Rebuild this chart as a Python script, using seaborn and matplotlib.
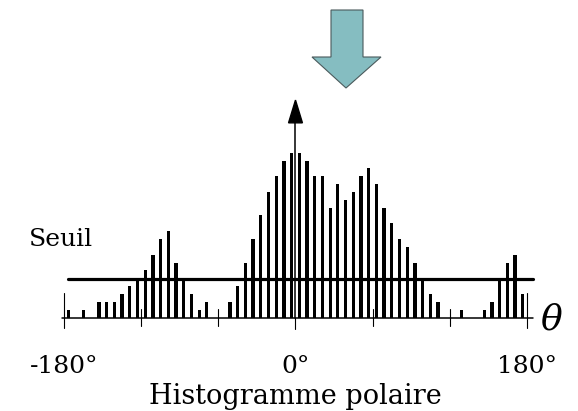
import numpy as np
import pandas as pd
import matplotlib.pyplot as plt
import seaborn as sns
from matplotlib.patches import Polygon

# polar histogram: 60 bins of 6 degrees, counts
angles = [-177, -171, -165, -159, -153, -147, -141, -135, -129, -123,
          -117, -111, -105, -99, -93, -87, -81, -75, -69, -63,
          -57, -51, -45, -39, -33, -27, -21, -15, -9, -3,
          3, 9, 15, 21, 27, 33, 39, 45, 51, 57,
          63, 69, 75, 81, 87, 93, 99, 105, 111, 117,
          123, 129, 135, 141, 147, 153, 159, 165, 171, 177]
counts = [1, 0, 1, 0, 2, 2, 2, 3, 4, 5,
          6, 8, 10, 11, 7, 5, 3, 1, 2, 0,
          0, 2, 4, 7, 10, 13, 16, 18, 20, 21,
          21, 20, 18, 18, 14, 17, 15, 16, 18, 19,
          17, 14, 12, 10, 9, 7, 5, 3, 2, 0,
          0, 1, 0, 0, 1, 2, 5, 7, 8, 3]
threshold = 4.9
tick_angles = [-180, -120, -60, 0, 60, 120, 180]
tick_labels = ['-180°', '0°', '180°']
label_angles = [-180, 0, 180]

df = pd.DataFrame({'angle': angles, 'count': counts})


def pos(deg):
    # categorical bar index for an angle in degrees
    return (np.asarray(deg, dtype=float) - angles[0]) / 6.0


sns.set_style("white")
plt.rcParams['font.family'] = ['DejaVu Serif']
plt.rcParams['text.color'] = 'black'

fig = plt.figure(figsize=(5.78, 4.11), dpi=100)
ax = fig.add_axes([0, 0, 1, 1])
sns.barplot(data=df, x='angle', y='count', color='black', saturation=1,
            width=0.42, errorbar=None, linewidth=0, edgecolor='black', ax=ax)
ax.set_xlim(pos(-230.06), pos(219.96))
ax.set_ylim(-11.91, 40.45)
ax.axis('off')

# axis line, threshold and ticks
ax.plot(pos([-182, 185]), [0, 0], color='black', lw=1.1)
ax.plot(pos([-177, 185]), [threshold, threshold], color='black', lw=2.3)
for a in tick_angles:
    if abs(a) == 180:
        ax.plot(pos([a, a]), [-1.35, 3.1], color='black', lw=0.8)
    elif a == 0:
        ax.plot(pos([a, a]), [-1.4, 0], color='black', lw=0.8)
    else:
        ax.plot(pos([a, a]), [-1.08, 1.08], color='black', lw=0.8)

# vertical arrow at 0
ax.plot(pos([0, 0]), [0, 25], color='black', lw=1.1)
ax.fill(pos([-5.4, 0, 5.4]), [24.8, 27.7, 24.8], color='black')

for a, lab in zip(label_angles, tick_labels):
    ax.text(pos(a), -6.3, lab, ha='center', va='center', fontsize=18)
ax.text(pos(0), -10.0, 'Histogramme polaire', ha='center', va='center', fontsize=19.5)
ax.text(pos(-183), 9.9, 'Seuil', ha='center', va='center', fontsize=18)
ax.text(pos(199), -0.3, 'θ', ha='center', va='center', fontsize=26, style='italic')

# big teal arrow on top
pts = [(331, 10), (363, 10), (363, 57), (381, 57), (346, 88), (312, 57), (331, 57)]
pts = [(x / 578, 1 - y / 411) for x, y in pts]
fig.patches.append(Polygon(pts, closed=True, transform=fig.transFigure,
                           facecolor='#85BDC1', edgecolor='#4a5a5c', lw=0.8))

fig.savefig('out.png', dpi=100)
